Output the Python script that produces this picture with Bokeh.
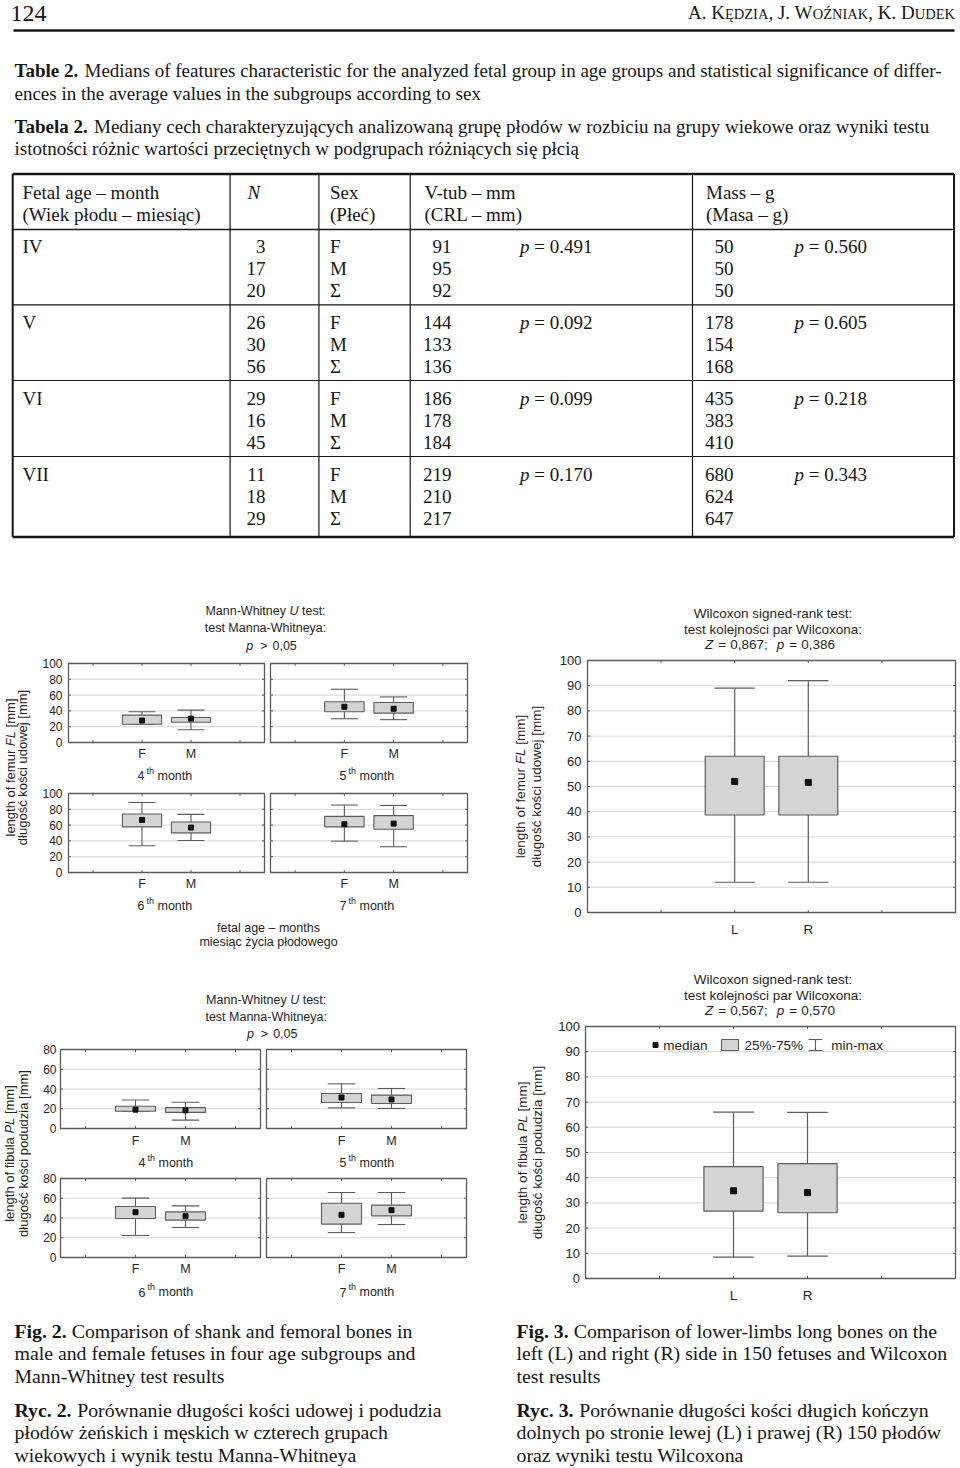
import math
from bokeh.plotting import figure
from bokeh.models import Range1d
from bokeh.core.properties import value
from bokeh.embed import file_html
from bokeh.resources import INLINE

# ---------------- Table 2 data ----------------
age_groups = ["IV", "V", "VI", "VII"]
sex_labels = ["F", "M", "Σ"]
n_counts = [[3, 17, 20], [26, 30, 56], [29, 16, 45], [11, 18, 29]]
vtub_mm = [[91, 95, 92], [144, 133, 136], [186, 178, 184], [219, 210, 217]]
mass_g = [[50, 50, 50], [178, 154, 168], [435, 383, 410], [680, 624, 647]]
p_vtub = ["0.491", "0.092", "0.099", "0.170"]
p_mass = ["0.560", "0.605", "0.218", "0.343"]

# ---------------- Fig. 2 data (F / M per month) ----------------
months = ["4", "5", "6", "7"]
sexes = ["F", "M"]
femur_F_min = [23.1, 30.1, 33.9, 39.7]
femur_F_q1 = [23.1, 38.9, 57.7, 57.7]
femur_F_med = [27.8, 45.2, 66.5, 61.1]
femur_F_q3 = [34.6, 51.5, 74.1, 71.1]
femur_F_max = [38.9, 67.4, 88.7, 85.4]
femur_M_min = [16.2, 28.9, 40.6, 32.6]
femur_M_q1 = [25.6, 37.2, 50.2, 54.8]
femur_M_med = [30.3, 42.7, 56.9, 61.9]
femur_M_q3 = [31.6, 50.6, 64.0, 72.0]
femur_M_max = [41.0, 57.7, 73.6, 84.9]
fibula_F_min = [17.4, 20.9, 22.3, 25.3]
fibula_F_q1 = [17.4, 26.3, 39.5, 33.8]
fibula_F_med = [19.1, 31.4, 45.9, 43.2]
fibula_F_q3 = [22.5, 35.4, 51.6, 55.0]
fibula_F_max = [28.9, 45.2, 60.1, 65.8]
fibula_M_min = [8.5, 20.3, 30.4, 33.4]
fibula_M_q1 = [16.3, 25.3, 37.8, 42.2]
fibula_M_med = [18.4, 29.4, 41.9, 47.9]
fibula_M_q3 = [21.1, 33.8, 46.2, 53.0]
fibula_M_max = [26.6, 40.5, 52.3, 65.8]
femur_ticks = [0, 20, 40, 60, 80, 100]
fibula_ticks = [0, 20, 40, 60, 80]

# ---------------- Fig. 3 data (L / R) ----------------
sides = ["L", "R"]
femur_LR_min = [12.0, 12.0]
femur_LR_q1 = [38.7, 38.7]
femur_LR_med = [52.0, 51.6]
femur_LR_q3 = [62.0, 62.0]
femur_LR_max = [89.0, 92.0]
fibula_LR_min = [8.5, 8.9]
fibula_LR_q1 = [26.7, 26.1]
fibula_LR_med = [34.8, 34.1]
fibula_LR_q3 = [44.4, 45.6]
fibula_LR_max = [66.0, 65.9]
lr_ticks = [0, 10, 20, 30, 40, 50, 60, 70, 80, 90, 100]

# ---------------- page canvas ----------------
W, H = 960, 1468
XR = (0.0, 960.0)
YR = (1468.0, 0.0)
SX = W / (XR[1] - XR[0])
SY = H / (YR[0] - YR[1])

p = figure(width=W, height=H, x_range=Range1d(*XR), y_range=Range1d(*YR),
           x_axis_type=None, y_axis_type=None, output_backend="svg",
           toolbar_location=None, min_border=0, title=None)
p.outline_line_color = None
p.background_fill_color = "white"
p.border_fill_color = "white"

SERIF = "Liberation Serif"
SANS = "Liberation Sans"
INK = "#161616"
CH = "#262626"
GRID = "#d6d6d6"
FRAME = "#5a5a5a"
BOXF = "#d4d4d4"
BOXL = "#5c5c5c"
WH = "#5c5c5c"

HELV = {' ': 278, '!': 278, '%': 889, '(': 333, ')': 333, ',': 278, '-': 333, '.': 278,
        ':': 278, ';': 278, '<': 584, '=': 584, '>': 584, '[': 278, ']': 278, '–': 556,
        'A': 667, 'B': 667, 'C': 722, 'D': 722, 'E': 667, 'F': 611, 'G': 778, 'H': 722,
        'I': 278, 'J': 500, 'K': 667, 'L': 556, 'M': 833, 'N': 722, 'O': 778, 'P': 667,
        'Q': 778, 'R': 722, 'S': 667, 'T': 611, 'U': 722, 'V': 667, 'W': 944, 'X': 667,
        'Y': 667, 'Z': 611, 'a': 556, 'b': 556, 'c': 500, 'd': 556, 'e': 556, 'f': 278,
        'g': 556, 'h': 556, 'i': 222, 'j': 222, 'k': 500, 'l': 222, 'm': 833, 'n': 556,
        'o': 556, 'p': 556, 'q': 556, 'r': 333, 's': 500, 't': 278, 'u': 556, 'v': 500,
        'w': 722, 'x': 500, 'y': 500, 'z': 500, 'ł': 222, 'ś': 500, 'ć': 500, 'ż': 500,
        'ó': 556, 'ą': 556, 'ę': 556}
TIMES_CAPS = {'A': 722, 'K': 722, 'Ę': 611, 'D': 722, 'Z': 611, 'I': 333, 'J': 389,
              'W': 944, 'O': 722, 'Ź': 611, 'N': 722, 'U': 722, 'E': 611, '.': 250,
              ',': 250, ' ': 250}


def tw(s, size, table=HELV):
    return sum(table.get(c, 556) for c in s) * size / 1000.0


def txt(xs, ys, texts, size, font=SANS, style="normal", align="left",
        baseline="middle", angle=0.0, color=INK, xr=None, yr=None):
    kw = {}
    if xr:
        kw["x_range_name"] = xr
    if yr:
        kw["y_range_name"] = yr
    p.text(x=list(xs), y=list(ys), text=list(texts), angle=angle,
           text_font=value(font), text_font_size=value(f"{size}px"),
           text_font_style=value(style), text_align=value(align),
           text_baseline=value(baseline), text_color=color, **kw)


def seg_line(segs, cx, cy, size, angle=0.0, color=CH, table=HELV, font=SANS):
    """Mixed-style line; spaces are turned into explicit offsets."""
    widths = [tw(t, size, table) for t, st, g in segs]
    total = sum(widths) + sum(g for t, st, g in segs)
    pos = -total / 2.0
    for (t, st, g), w in zip(segs, widths):
        pos += g
        lead = len(t) - len(t.lstrip(" "))
        off = pos + tw(t[:lead], size, table)
        body = t.strip(" ")
        if angle == 0:
            txt([cx + off / SX], [cy], [body], size, font=font, style=st, color=color)
        else:
            txt([cx], [cy - off / SY], [body], size, font=font, style=st, angle=angle, color=color)
        pos += w


# ---------------- page header ----------------
MID = 0.3375  # middle-of-em offset above the baseline (serif)
txt([10], [13.0], ["124"], 24, font=SERIF)
name_segs = [("A. K", 19), ("ĘDZIA", 14.5), (", J. W", 19), ("OŹNIAK", 14.5), (", K. D", 19), ("UDEK", 14.5)]
name_total = sum(tw(t, s, TIMES_CAPS) for t, s in name_segs)
xpos = 954.5 - name_total / SX
NAME_BASE = 18.0
for t, s in name_segs:
    lead = len(t) - len(t.lstrip(" "))
    txt([xpos + tw(t[:lead], s, TIMES_CAPS) / SX], [NAME_BASE - MID * s], [t.strip(" ")], s, font=SERIF)
    xpos += tw(t, s, TIMES_CAPS) / SX
p.segment(x0=[13], y0=[30], x1=[954], y1=[30], line_color=INK, line_width=2.4)

# ---------------- table caption ----------------
CAP = 19
txt([14], [70], ["Table 2."], CAP, font=SERIF, style="bold")
txt([84], [70], ["Medians of features characteristic for the analyzed fetal group in age groups and statistical significance of differ-"], CAP, font=SERIF)
txt([14], [93], ["ences in the average values in the subgroups according to sex"], CAP, font=SERIF)
txt([14], [126], ["Tabela 2."], CAP, font=SERIF, style="bold")
txt([93.5], [126], ["Mediany cech charakteryzujących analizowaną grupę płodów w rozbiciu na grupy wiekowe oraz wyniki testu"], CAP, font=SERIF)
txt([14], [148], ["istotności różnic wartości przeciętnych w podgrupach różniących się płcią"], CAP, font=SERIF)

# ---------------- table ----------------
T_TOP, T_HEAD, T_BOT = 173.5, 229.0, 536.5
T_LEFT, T_RIGHT = 12.2, 953.5
col_lines = [229.6, 318.4, 409.7, 692.0]
row_lines = [304.3, 380.0, 456.0]
p.segment(x0=[T_LEFT, T_LEFT], x1=[T_RIGHT, T_RIGHT], y0=[T_TOP, T_BOT], y1=[T_TOP, T_BOT],
          line_color=INK, line_width=2.6)
p.segment(x0=[T_LEFT], x1=[T_RIGHT], y0=[T_HEAD], y1=[T_HEAD], line_color=INK, line_width=1.6)
p.segment(x0=[T_LEFT] * 3, x1=[T_RIGHT] * 3, y0=row_lines, y1=row_lines, line_color=INK, line_width=1.2)
p.segment(x0=[T_LEFT, T_RIGHT], x1=[T_LEFT, T_RIGHT], y0=[T_TOP, T_TOP], y1=[T_BOT, T_BOT],
          line_color=INK, line_width=2.0)
p.segment(x0=col_lines, x1=col_lines, y0=[T_TOP] * 4, y1=[T_BOT] * 4, line_color=INK, line_width=1.2)

TF = 19
txt([22, 22], [192, 214], ["Fetal age – month", "(Wiek płodu – miesiąc)"], TF, font=SERIF)
txt([247], [192], ["N"], TF, font=SERIF, style="italic")
txt([329.5, 329.5], [192, 214], ["Sex", "(Płeć)"], TF, font=SERIF)
txt([424, 424], [192, 214], ["V-tub – mm", "(CRL – mm)"], TF, font=SERIF)
txt([705.5, 705.5], [192, 214], ["Mass – g", "(Masa – g)"], TF, font=SERIF)

for g, age in enumerate(age_groups):
    ys = [245.6 + 76 * g + 22.2 * k for k in range(3)]
    txt([22], [ys[0]], [age], TF, font=SERIF)
    txt([265] * 3, ys, [str(v) for v in n_counts[g]], TF, font=SERIF, align="right")
    txt([329.5] * 3, ys, sex_labels, TF, font=SERIF)
    txt([451] * 3, ys, [str(v) for v in vtub_mm[g]], TF, font=SERIF, align="right")
    txt([733] * 3, ys, [str(v) for v in mass_g[g]], TF, font=SERIF, align="right")
    txt([519.5, 794], [ys[0], ys[0]], ["p", "p"], TF, font=SERIF, style="italic")
    txt([519.5 + 14.3, 794 + 14.3], [ys[0], ys[0]], ["= " + p_vtub[g], "= " + p_mass[g]], TF, font=SERIF)


# ---------------- chart helpers ----------------
def setup_panel(name, rect, xlim, ylim):
    L, R, T, B = rect
    x0, x1 = xlim
    y0, y1 = ylim
    fx = lambda r: x0 + (r - L) * (x1 - x0) / (R - L)
    fy = lambda r: y0 + (r - B) * (y1 - y0) / (T - B)
    p.extra_x_ranges[name] = Range1d(fx(XR[0]), fx(XR[1]))
    p.extra_y_ranges[name] = Range1d(fy(YR[0]), fy(YR[1]))
    return (x1 - x0) / ((R - L) * SX), (y1 - y0) / ((B - T) * SY)


def draw_grid(name, xlim, ylim, yticks):
    kw = dict(x_range_name=name, y_range_name=name)
    inner = [t for t in yticks if ylim[0] < t < ylim[1]]
    p.segment(x0=[xlim[0]] * len(inner), x1=[xlim[1]] * len(inner), y0=inner, y1=inner,
              line_color=GRID, line_width=1.0, **kw)


def draw_frame(name, xlim, ylim, yticks, xticks, ux, uy):
    kw = dict(x_range_name=name, y_range_name=name)
    dy = 2.5 * uy
    dx = 2.5 * ux
    n = len(xticks)
    p.segment(x0=xticks, x1=xticks, y0=[ylim[0]] * n, y1=[ylim[0] + dy] * n, line_color=FRAME, **kw)
    p.segment(x0=xticks, x1=xticks, y0=[ylim[1]] * n, y1=[ylim[1] - dy] * n, line_color=FRAME, **kw)
    inner = [t for t in yticks if ylim[0] < t < ylim[1]]
    m = len(inner)
    p.segment(x0=[xlim[0]] * m, x1=[xlim[0] + dx] * m, y0=inner, y1=inner, line_color=FRAME, **kw)
    p.segment(x0=[xlim[1]] * m, x1=[xlim[1] - dx] * m, y0=inner, y1=inner, line_color=FRAME, **kw)
    p.quad(left=[xlim[0]], right=[xlim[1]], bottom=[ylim[0]], top=[ylim[1]],
           fill_color=None, line_color=FRAME, line_width=1.3, **kw)


def draw_boxes(name, xs, mins, q1s, meds, q3s, maxs, med_size, lw=1.1):
    kw = dict(x_range_name=name, y_range_name=name)
    bw, cw = 0.8, 0.55
    p.segment(x0=xs, y0=mins, x1=xs, y1=q1s, line_color=WH, line_width=lw, **kw)
    p.segment(x0=xs, y0=q3s, x1=xs, y1=maxs, line_color=WH, line_width=lw, **kw)
    p.segment(x0=[x - cw / 2 for x in xs], x1=[x + cw / 2 for x in xs], y0=mins, y1=mins,
              line_color=WH, line_width=lw, **kw)
    p.segment(x0=[x - cw / 2 for x in xs], x1=[x + cw / 2 for x in xs], y0=maxs, y1=maxs,
              line_color=WH, line_width=lw, **kw)
    p.quad(left=[x - bw / 2 for x in xs], right=[x + bw / 2 for x in xs], bottom=q1s, top=q3s,
           fill_color=BOXF, line_color=BOXL, line_width=lw, **kw)
    p.scatter(x=xs, y=meds, marker="square", size=med_size, fill_color="#111111",
              line_color="#111111", **kw)


def month_label(num, cx, cy, size=12.5):
    start = cx - 27 / SX
    txt([start], [cy], [num], size, color=CH)
    txt([start + 9 / SX], [cy - 5], ["th"], 9, color=CH)
    txt([start + 20 / SX], [cy], ["month"], size, color=CH)


# ---------------- Fig. 2 ----------------
F2_X = (0.0, 4.0)
F2_CATS = [1.5, 2.5]
F2_XT = [0.5, 1.5, 2.5, 3.5]

fig2_sets = [
    dict(key="fa", ylim=(0, 100), ticks=femur_ticks,
         rects=[(68, 264, 663, 742), (270, 467, 663, 742), (68, 264, 793, 872), (270, 467, 793, 872)],
         tick_x=62, cat_y=[753, 753, 883, 883], mon_y=[775, 775, 905, 905], mon_x=[164, 366, 164, 366],
         F=(femur_F_min, femur_F_q1, femur_F_med, femur_F_q3, femur_F_max),
         M=(femur_M_min, femur_M_q1, femur_M_med, femur_M_q3, femur_M_max)),
    dict(key="fb", ylim=(0, 80), ticks=fibula_ticks,
         rects=[(60, 260, 1049, 1128), (266, 466, 1049, 1128), (60, 260, 1178, 1257), (266, 466, 1178, 1257)],
         tick_x=56, cat_y=[1140, 1140, 1268.5, 1268.5], mon_y=[1162, 1162, 1291.5, 1291.5], mon_x=[165, 366, 165, 366],
         F=(fibula_F_min, fibula_F_q1, fibula_F_med, fibula_F_q3, fibula_F_max),
         M=(fibula_M_min, fibula_M_q1, fibula_M_med, fibula_M_q3, fibula_M_max)),
]

for s in fig2_sets:
    for i, mth in enumerate(months):
        name = s["key"] + mth
        ux, uy = setup_panel(name, s["rects"][i], F2_X, s["ylim"])
        draw_grid(name, F2_X, s["ylim"], s["ticks"])
        vals = [[s["F"][j][i], s["M"][j][i]] for j in range(5)]
        draw_boxes(name, F2_CATS, *vals, med_size=5)
        draw_frame(name, F2_X, s["ylim"], s["ticks"], F2_XT, ux, uy)
        if i in (0, 2):
            txt([s["tick_x"]] * len(s["ticks"]), s["ticks"], [str(t) for t in s["ticks"]], 12,
                align="right", color=CH, yr=name)
        txt(F2_CATS, [s["cat_y"][i]] * 2, sexes, 12.5, align="center", color=CH, xr=name)
        month_label(mth, s["mon_x"][i], s["mon_y"][i])

# Fig 2 titles
for cy0, cx in ((610.7, 265.0), (999.0, 265.7)):
    seg_line([("Mann-Whitney ", "normal", 0), ("U", "italic", 0), (" test:", "normal", 0)], cx, cy0, 12.5)
    seg_line([("test Manna-Whitneya:", "normal", 0)], cx, cy0 + 17.2, 12.5)
    seg_line([("p", "italic", 0), (">", "normal", 7), ("0,05", "normal", 5)], cx + 6, cy0 + 34.3, 12.5)

seg_line([("fetal age – months", "normal", 0)], 268, 927, 12.5)
seg_line([("miesiąc życia płodowego", "normal", 0)], 268, 941.6, 12.5)

# Fig 2 y titles
ROT = math.pi / 2
seg_line([("length of femur ", "normal", 0), ("FL", "italic", 0), (" [mm]", "normal", 0)], 9.5, 767, 13, angle=ROT)
seg_line([("długość kości udowej [mm]", "normal", 0)], 22, 767, 13, angle=ROT)
seg_line([("length of fibula ", "normal", 0), ("PL", "italic", 0), (" [mm]", "normal", 0)], 8.7, 1153, 13, angle=ROT)
seg_line([("długość kości podudzia [mm]", "normal", 0)], 23, 1153, 13, angle=ROT)

# ---------------- Fig. 3 ----------------
F3_X = (0.0, 5.0)
F3_CATS = [2.0, 3.0]
F3_XT = [1.0, 2.0, 3.0, 4.0]
fig3_sets = [
    dict(name="lr_femur", rect=(587, 955, 660, 912), tick_x=581, cat_y=929, tcy=613,
         vals=(femur_LR_min, femur_LR_q1, femur_LR_med, femur_LR_q3, femur_LR_max),
         zp=("0,867;", "0,386"),
         yt=(("length of femur ", "FL", " [mm]"), "długość kości udowej [mm]"), ytx=(520, 536), yty=786),
    dict(name="lr_fibula", rect=(585, 955, 1026, 1278), tick_x=579.5, cat_y=1295, tcy=979,
         vals=(fibula_LR_min, fibula_LR_q1, fibula_LR_med, fibula_LR_q3, fibula_LR_max),
         zp=("0,567;", "0,570"),
         yt=(("length of fibula ", "PL", " [mm]"), "długość kości podudzia [mm]"), ytx=(521.7, 536.7), yty=1152),
]
for s in fig3_sets:
    name = s["name"]
    ylim = (0, 100)
    ux, uy = setup_panel(name, s["rect"], F3_X, ylim)
    draw_grid(name, F3_X, ylim, lr_ticks)
    draw_boxes(name, F3_CATS, *s["vals"], med_size=6, lw=1.2)
    draw_frame(name, F3_X, ylim, lr_ticks, F3_XT, ux, uy)
    txt([s["tick_x"]] * len(lr_ticks), lr_ticks, [str(t) for t in lr_ticks], 13,
        align="right", color=CH, yr=name)
    txt(F3_CATS, [s["cat_y"]] * 2, sides, 13.5, align="center", color=CH, xr=name)
    cy0 = s["tcy"]
    seg_line([("Wilcoxon signed-rank test:", "normal", 0)], 772.5, cy0, 13.5)
    seg_line([("test kolejności par Wilcoxona:", "normal", 0)], 772.5, cy0 + 15.8, 13.5)
    seg_line([("Z", "italic", 0), ("=", "normal", 5), (s["zp"][0], "normal", 4),
              ("p", "italic", 9), ("=", "normal", 5), (s["zp"][1], "normal", 4)], 769.5, cy0 + 31.2, 13.5)
    (a, b, c), l2 = s["yt"]
    seg_line([(a, "normal", 0), (b, "italic", 0), (c, "normal", 0)], s["ytx"][0], s["yty"], 13.5, angle=ROT)
    seg_line([(l2, "normal", 0)], s["ytx"][1], s["yty"], 13.5, angle=ROT)

# Fig 3 legend (inside lower panel)
LG_Y = 1044.5
p.scatter(x=[655], y=[LG_Y], marker="square", size=5, fill_color="#111111", line_color="#111111")
txt([662.7], [LG_Y], ["median"], 13.5, color=CH)
p.quad(left=[721], right=[738], bottom=[1050], top=[1039], fill_color=BOXF, line_color=BOXL, line_width=1.1)
txt([744], [LG_Y], ["25%-75%"], 13.5, color=CH)
p.segment(x0=[815, 808, 808], x1=[815, 822, 822], y0=[1039, 1039, 1050], y1=[1050, 1039, 1050],
          line_color=WH, line_width=1.1)
txt([830.7], [LG_Y], ["min-max"], 13.5, color=CH)

# ---------------- figure captions ----------------
FC = 19.8
cap_rows = [1330, 1352.5, 1375, 1409, 1431.5, 1454]
left_cap = [("Fig. 2.", "Comparison of shank and femoral bones in"),
            (None, "male and female fetuses in four age subgroups and"),
            (None, "Mann-Whitney test results"),
            ("Ryc. 2.", "Porównanie długości kości udowej i podudzia"),
            (None, "płodów żeńskich i męskich w czterech grupach"),
            (None, "wiekowych i wynik testu Manna-Whitneya")]
right_cap = [("Fig. 3.", "Comparison of lower-limbs long bones on the"),
             (None, "left (L) and right (R) side in 150 fetuses and Wilcoxon"),
             (None, "test results"),
             ("Ryc. 3.", "Porównanie długości kości długich kończyn"),
             (None, "dolnych po stronie lewej (L) i prawej (R) 150 płodów"),
             (None, "oraz wyniki testu Wilcoxona")]
bold_em = {"Fig. 2.": 2.639 + 0.25, "Fig. 3.": 2.639 + 0.25, "Ryc. 2.": 2.916 + 0.25, "Ryc. 3.": 2.916 + 0.25}
for x0, rows in ((14, left_cap), (516, right_cap)):
    for y, (b, rest) in zip(cap_rows, rows):
        if b:
            txt([x0], [y], [b], FC, font=SERIF, style="bold")
            txt([x0 + bold_em[b] * FC / SX], [y], [rest], FC, font=SERIF)
        else:
            txt([x0], [y], [rest], FC, font=SERIF)

open("out.html", "w").write(file_html(p, INLINE))
